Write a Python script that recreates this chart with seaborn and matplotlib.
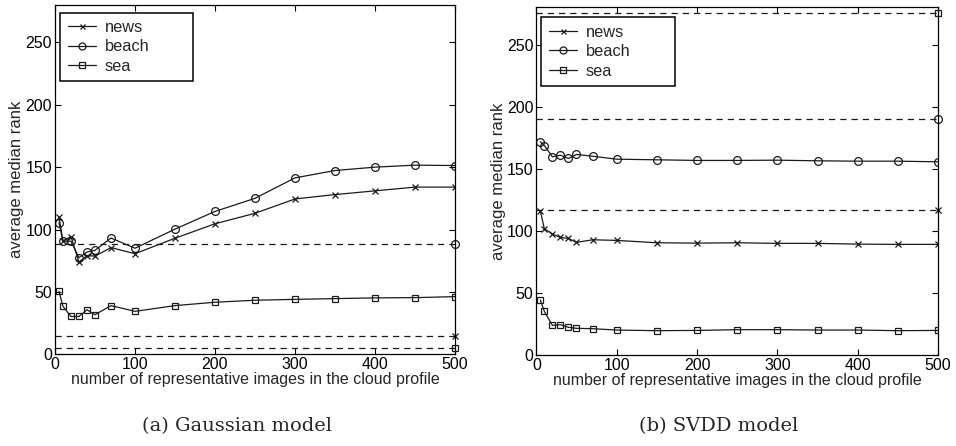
import numpy as np
import pandas as pd
import seaborn as sns
import matplotlib
matplotlib.use("Agg")
import matplotlib.pyplot as plt
from matplotlib.lines import Line2D

# ---- data ----
x_vals = [5, 10, 20, 30, 40, 50, 70, 100, 150, 200, 250, 300, 350, 400, 450, 500]
series_names = ["news", "beach", "sea"]

gauss_news = [110, 90.8, 94.4, 73.9, 79, 78.7, 85.5, 80.6, 93, 104.6, 113, 124.5, 128, 131, 134, 134]
gauss_beach = [105.6, 90.6, 90.6, 77.4, 82, 83.3, 93.2, 85, 100.3, 114.5, 125, 141.4, 147.3, 150, 151.6, 151.3]
gauss_sea = [50.5, 38.4, 30.3, 30.3, 35.7, 31.7, 39, 34.4, 39, 41.7, 43.3, 44, 44.6, 45.2, 45.4, 46.2]
gauss_baseline = [15, 88, 5]   # news, beach, sea

svdd_news = [115.9, 101.7, 97.4, 94.7, 93.9, 90.7, 92.8, 92.3, 90.4, 90.1, 90.4, 89.9, 89.9, 89.3, 89.1, 89.1]
svdd_beach = [171.7, 168.7, 159.6, 160.9, 158.3, 161.5, 160.1, 157.7, 157.2, 156.7, 156.7, 156.9, 156.4, 156.1, 156.1, 155.6]
svdd_sea = [44.3, 35.1, 23.9, 24.4, 22.3, 21.5, 21.2, 20.1, 19.6, 19.8, 20.4, 20.4, 20.1, 20.1, 19.6, 19.8]
svdd_baseline = [116.4, 190, 275.8]

x_ticks = [0, 100, 200, 300, 400, 500]
y_ticks = [0, 50, 100, 150, 200, 250]
xlabel = "number of representative images in the cloud profile"
ylabel = "average median rank"
subtitles = ["(a) Gaussian model", "(b) SVDD model"]

# ---- style ----
sns.set_style("ticks")
plt.rcParams["font.family"] = ["Liberation Sans", "DejaVu Sans"]
plt.rcParams["xtick.direction"] = "in"
plt.rcParams["ytick.direction"] = "in"
plt.rcParams["xtick.top"] = True
plt.rcParams["ytick.right"] = True

markers = {"news": "x", "beach": "o", "sea": "s"}
msizes = {"news": 4, "beach": 5.6, "sea": 4.5}
line_col = "#1a1a1a"

fig = plt.figure(figsize=(9.56, 4.46), dpi=100)
ax1 = fig.add_axes([0.0575, 0.2057, 0.4184, 0.7831])
ax2 = fig.add_axes([0.5610, 0.2040, 0.4202, 0.7796])

panels = [
    (ax1, [gauss_news, gauss_beach, gauss_sea], gauss_baseline, (0.0133, 0.5, 0.3325, 0.478)),
    (ax2, [svdd_news, svdd_beach, svdd_sea], svdd_baseline, (0.0124, 0.5, 0.3336, 0.471)),
]

for i, (ax, vals, base, lbox) in enumerate(panels):
    df = pd.DataFrame({
        "x": x_vals * 3,
        "y": vals[0] + vals[1] + vals[2],
        "series": sum([[n] * len(x_vals) for n in series_names], []),
    })
    for n in series_names:
        sub = df[df.series == n]
        sns.lineplot(data=sub, x="x", y="y", ax=ax, color=line_col, lw=0.9,
                     marker=markers[n], markersize=msizes[n],
                     markerfacecolor="none", markeredgecolor=line_col,
                     markeredgewidth=0.9, legend=False)
    for n, b in zip(series_names, base):
        ax.axhline(b, color=line_col, lw=0.9, ls=(0, (5, 4)))
        ax.plot([x_vals[-1]], [b], marker=markers[n], markersize=msizes[n],
                markerfacecolor="none", markeredgecolor=line_col,
                markeredgewidth=0.9, color=line_col, clip_on=False)
    ax.set_xlim(0, 500)
    ax.set_ylim(0, 280)
    ax.set_xticks(x_ticks)
    ax.set_yticks(y_ticks)
    ax.tick_params(labelsize=11.5, length=4, width=0.8, pad=2, colors="black")
    ax.set_xlabel(xlabel, fontsize=11.5, labelpad=0)
    ax.set_ylabel(ylabel, fontsize=12, labelpad=1)
    for s in ax.spines.values():
        s.set_visible(True)
        s.set_color("black")
        s.set_linewidth(0.9)
    handles = [Line2D([0], [0], color=line_col, lw=0.9, marker=markers[n],
                      markersize=msizes[n] * 0.9, markerfacecolor="none",
                      markeredgecolor=line_col, markeredgewidth=0.9)
               for n in series_names]
    leg = ax.legend(handles, series_names, loc="upper left", numpoints=1,
                    bbox_to_anchor=lbox, mode="expand",
                    fontsize=11.8, frameon=True, fancybox=False, framealpha=1,
                    edgecolor="black", handlelength=1.7, handletextpad=0.55,
                    borderpad=0.45, labelspacing=0.27, borderaxespad=0)
    leg.get_frame().set_linewidth(1.1)

fig.text(0.248, 0.045, subtitles[0], ha="center", va="center",
         fontsize=14, family=["DejaVu Serif"])
fig.text(0.752, 0.045, subtitles[1], ha="center", va="center",
         fontsize=14, family=["DejaVu Serif"])

fig.savefig("out.png", dpi=100)
